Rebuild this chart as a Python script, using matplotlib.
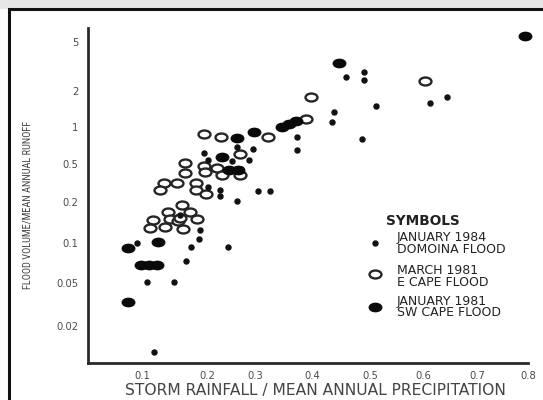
import numpy as np
import matplotlib
matplotlib.use("Agg")
import matplotlib.pyplot as plt
from matplotlib import font_manager
from matplotlib.path import Path
from matplotlib.markers import MarkerStyle
from matplotlib.transforms import Affine2D
from matplotlib.patches import Rectangle
from matplotlib.lines import Line2D

# ---------------- data ----------------
domoina_x = [0.49, 0.459, 0.49, 0.644, 0.511, 0.613, 0.438, 0.434, 0.374, 0.374,
             0.486, 0.296, 0.263, 0.288, 0.252, 0.195, 0.202, 0.271, 0.202, 0.227,
             0.227, 0.263, 0.305, 0.326, 0.189, 0.188, 0.175, 0.244, 0.168, 0.108,
             0.149, 0.092, 0.118, 0.158]
domoina_y = [2.85, 2.6, 2.45, 1.78, 1.5, 1.59, 1.33, 1.10, 0.83, 0.65,
             0.80, 0.66, 0.69, 0.54, 0.53, 0.61, 0.54, 0.44, 0.29, 0.27,
             0.23, 0.205, 0.26, 0.26, 0.125, 0.107, 0.093, 0.093, 0.073, 0.051,
             0.051, 0.10, 0.0116, 0.16]

ecape_x = [0.604, 0.398, 0.389, 0.195, 0.229, 0.323, 0.269, 0.166, 0.166, 0.195,
           0.197, 0.221, 0.231, 0.269, 0.134, 0.128, 0.154, 0.183, 0.183, 0.198,
           0.162, 0.14, 0.174, 0.117, 0.143, 0.185, 0.112, 0.135, 0.163, 0.155,
           0.158]
ecape_y = [2.4, 1.78, 1.17, 0.88, 0.83, 0.83, 0.60, 0.51, 0.40, 0.48,
           0.41, 0.45, 0.38, 0.38, 0.32, 0.27, 0.32, 0.32, 0.27, 0.24,
           0.19, 0.17, 0.17, 0.148, 0.15, 0.15, 0.129, 0.13, 0.127, 0.145,
           0.152]

swcape_x = [0.794, 0.447, 0.347, 0.36, 0.372, 0.298, 0.263, 0.231, 0.246, 0.265,
            0.078, 0.125, 0.098, 0.111, 0.123, 0.078]
swcape_y = [5.6, 3.4, 1.0, 1.06, 1.12, 0.91, 0.81, 0.57, 0.43, 0.43,
            0.092, 0.102, 0.068, 0.068, 0.068, 0.033]

x_ticks = [0.1, 0.2, 0.3, 0.4, 0.5, 0.6, 0.7, 0.8]
x_tick_labels = ["0.1", "0.2", "0.3", "0.4", "0.5", "0.6", "0.7", "0.8"]
y_ticks = [5, 2, 1, 0.5, 0.2, 0.1, 0.05, 0.02]
y_tick_labels = ["5", "2", "1", "0.5", "0.2", "0.1", "0.05", "0.02"]

legend_labels = ["JANUARY 1984\nDOMOINA FLOOD",
                 "MARCH 1981\nE CAPE FLOOD",
                 "JANUARY 1981\nSW CAPE FLOOD"]

# ---------------- hand-drawn axis scales ----------------
# the original axes are drawn by hand; tick spacing is not uniform
x_anchor_val = np.array([0.0, 0.1, 0.2, 0.3, 0.4, 0.5, 0.6, 0.7, 0.8, 0.9])
x_anchor_pos = np.array([77, 142, 207, 255, 312, 370, 423, 477, 528, 579], float)
y_anchor_log = np.log10([0.005, 0.01, 0.02, 0.05, 0.1, 0.2, 0.5, 1, 2, 5, 10])
y_anchor_pos = -np.array([392, 359, 326, 283, 243, 202, 164, 127, 91, 42, 5], float)


def xf(v):
    return np.interp(np.asarray(v, float), x_anchor_val, x_anchor_pos)


def xi(p):
    return np.interp(np.asarray(p, float), x_anchor_pos, x_anchor_val)


def yf(v):
    v = np.clip(np.asarray(v, float), 1e-6, None)
    return np.interp(np.log10(v), y_anchor_log, y_anchor_pos)


def yi(p):
    return 10 ** np.interp(np.asarray(p, float), y_anchor_pos, y_anchor_log)


available = {f.name for f in font_manager.fontManager.ttflist}
narrow_candidates = ["Liberation Sans Narrow", "Roboto Condensed", "Open Sans Condensed",
                     "DejaVu Sans Condensed"]
narrow = next((n for n in narrow_candidates if n in available), "DejaVu Sans")

W, H = 543, 400
fig = plt.figure(figsize=(W / 100, H / 100), dpi=100)
fig.patch.set_facecolor("white")


def fx(px):
    return px / W


def fy(py):
    return 1 - py / H


# outer scanned frame + grey band at top
fig.patches.append(Rectangle((0, fy(9)), 1, 1 - fy(9), transform=fig.transFigure,
                             facecolor="#e6e6e6", edgecolor="none", zorder=-3))
fig.patches.append(Rectangle((fx(9), -0.1), 1.2, fy(9) + 0.1, transform=fig.transFigure,
                             facecolor="white", edgecolor="#111111", lw=2.2, zorder=-2))

ax_l, ax_r, ax_t, ax_b = 88, 528, 28, 363
ax = fig.add_axes([fx(ax_l), fy(ax_b), (ax_r - ax_l) / W, (ax_b - ax_t) / H])
ax.set_facecolor("none")
ax.set_xscale("function", functions=(xf, xi))
ax.set_yscale("function", functions=(yf, yi))
ax.set_xlim(float(xi(ax_l)), float(xi(ax_r)))
ax.set_ylim(float(yi(-ax_b)), float(yi(-ax_t)))

for s in ["top", "right"]:
    ax.spines[s].set_visible(False)
for s in ["left", "bottom"]:
    ax.spines[s].set_color("#2a2a2a")
    ax.spines[s].set_linewidth(2.0)

ax.set_xticks(x_ticks)
ax.set_xticklabels(x_tick_labels)
ax.set_yticks(y_ticks)
ax.set_yticklabels(y_tick_labels)
ax.minorticks_off()
ax.tick_params(axis="both", length=0, labelsize=7.2, labelcolor="#4a4a4a")
ax.tick_params(axis="y", pad=7)
ax.tick_params(axis="x", pad=6)

ellipse = Path.unit_circle().transformed(Affine2D().scale(1.5, 1.0))
ell_marker = MarkerStyle(ellipse)

ax.plot(domoina_x, domoina_y, linestyle="none", marker="o", ms=3.6,
        color="#111111", mec="#111111", clip_on=False, zorder=3)
ax.plot(ecape_x, ecape_y, linestyle="none", marker=ell_marker, ms=8.6,
        mfc="white", mec="#262626", mew=1.7, clip_on=False, zorder=2)
ax.plot(swcape_x, swcape_y, linestyle="none", marker=ell_marker, ms=9.0,
        mfc="#0a0a0a", mec="#0a0a0a", mew=1.0, clip_on=False, zorder=4)

# axis titles
fig.text(fx(315), fy(391), "STORM RAINFALL / MEAN ANNUAL PRECIPITATION",
         ha="center", va="center", fontsize=11.2, color="#444444")
fig.text(fx(28), fy(205), "FLOOD VOLUME/MEAN ANNUAL RUNOFF",
         rotation=90, ha="center", va="center",
         fontsize=7.5 if narrow != "DejaVu Sans" else 6.6, color="#444444",
         family=[narrow, "DejaVu Sans"])

# legend (drawn by hand, as in the original)
fig.text(fx(386), fy(221), "SYMBOLS", ha="left", va="center",
         fontsize=9.8, fontweight="bold", color="#222222")
styles = [dict(marker="o", ms=3.6, mfc="#111111", mec="#111111"),
          dict(marker=ell_marker, ms=8.6, mfc="white", mec="#262626", mew=1.7),
          dict(marker=ell_marker, ms=9.0, mfc="#0a0a0a", mec="#0a0a0a")]
mark_y = [243, 274, 307]
line_y = [(237, 249), (270, 282), (301, 313)]
for lab, st, my, (ly1, ly2) in zip(legend_labels, styles, mark_y, line_y):
    fig.lines.append(Line2D([fx(375)], [fy(my)], transform=fig.transFigure,
                            linestyle="none", **st))
    l1, l2 = lab.split("\n")
    fig.text(fx(397), fy(ly1), l1, ha="left", va="center", fontsize=9.0, color="#222222")
    fig.text(fx(397), fy(ly2), l2, ha="left", va="center", fontsize=9.0, color="#222222")

fig.savefig("out.png", dpi=100)
